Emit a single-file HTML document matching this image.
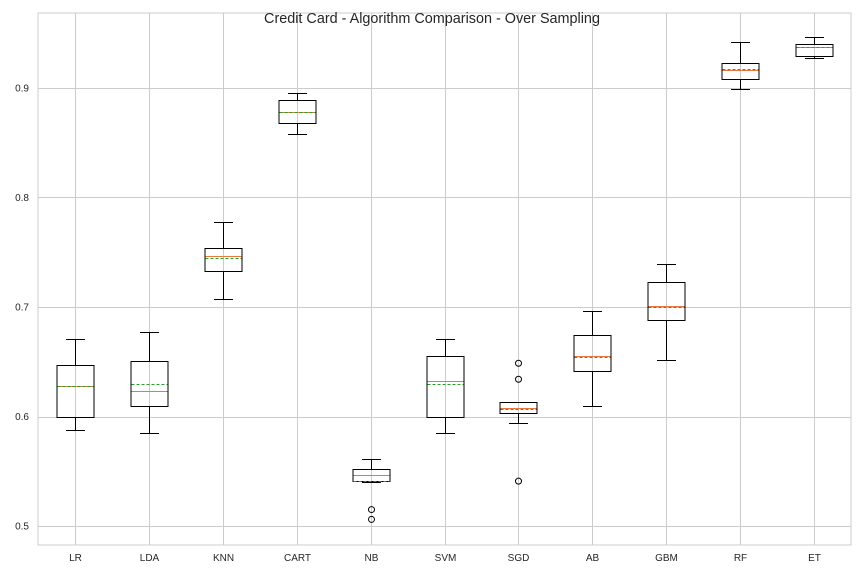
<!DOCTYPE html>
<html><head><meta charset="utf-8"><style>
body{margin:0;background:#fff;font-family:"Liberation Sans",sans-serif}
svg text{font-family:"Liberation Sans",sans-serif}
</style></head><body>
<svg id="chart" width="864" height="576"></svg>
<script>
const categories=["LR","LDA","KNN","CART","NB","SVM","SGD","AB","GBM","RF","ET"];
const whiskerLow=[0.588,0.585,0.707,0.858,0.540,0.585,0.594,0.610,0.652,0.899,0.927];
const q1=[0.600,0.610,0.733,0.868,0.541,0.600,0.603,0.642,0.688,0.908,0.929];
const medians=[0.628,0.623,0.747,0.878,0.5466,0.632,0.608,0.655,0.701,0.916,0.937];
const means=[0.628,0.630,0.745,0.878,0.541,0.630,0.6066,0.654,0.700,0.917,0.937];
const q3=[0.647,0.651,0.754,0.889,0.552,0.655,0.613,0.674,0.723,0.923,0.940];
const whiskerHigh=[0.671,0.677,0.778,0.895,0.561,0.671,0.613,0.696,0.739,0.942,0.947];
const outliers=[[],[],[],[],[0.515,0.506],[],[0.6486,0.634,0.541],[],[],[],[]];
const yTicks=[0.5,0.6,0.7,0.8,0.9];

const L=38,R=851,T=13,B=545;
const NS="http://www.w3.org/2000/svg";
const svg=document.getElementById('chart');
const step=(R-L)/categories.length;
function x(i){return L+step*(i+0.5);}
function y(v){return 526-(v-0.5)*1095;}
function px(v){return Math.round(v)+0.5;}
function el(tag,attrs,parent){const e=document.createElementNS(NS,tag);for(const k in attrs)e.setAttribute(k,attrs[k]);(parent||svg).appendChild(e);return e;}

const bg=el('rect',{x:L,y:T,width:R-L,height:B-T,fill:'#fff',stroke:'#ccc','stroke-width':1});


yTicks.forEach(t=>{
  const g=el('line',{x1:L,x2:R,y1:px(y(t)),y2:px(y(t)),stroke:'#ccc','stroke-width':1});
  
  
  const tx=el('text',{x:L-9,y:y(t)+3.5,'text-anchor':'end','font-size':10,fill:'#262626'});
  tx.textContent=t.toFixed(1);
  
  
});
categories.forEach((c,i)=>{
  const cx=px(x(i));
  const g=el('line',{x1:cx,x2:cx,y1:T,y2:B,stroke:'#ccc','stroke-width':1});
  
  
  const tx=el('text',{x:cx,y:B+16,'text-anchor':'middle','font-size':10,fill:'#262626'});
  tx.textContent=c;
  
  
});
categories.forEach((c,i)=>{
  const cx=px(x(i)),bw=37,cw=19;
  const grp=el('g',{});
  
  
  el('line',{x1:cx,x2:cx,y1:px(y(whiskerLow[i])),y2:px(y(q1[i])),stroke:'#000','stroke-width':1},grp);
  el('line',{x1:cx,x2:cx,y1:px(y(q3[i])),y2:px(y(whiskerHigh[i])),stroke:'#000','stroke-width':1},grp);
  el('line',{x1:cx-cw/2,x2:cx+cw/2,y1:px(y(whiskerLow[i])),y2:px(y(whiskerLow[i])),stroke:'#000','stroke-width':1},grp);
  el('line',{x1:cx-cw/2,x2:cx+cw/2,y1:px(y(whiskerHigh[i])),y2:px(y(whiskerHigh[i])),stroke:'#000','stroke-width':1},grp);
  el('rect',{x:cx-bw/2,y:px(y(q3[i])),width:bw,height:px(y(q1[i]))-px(y(q3[i])),fill:'none',stroke:'#000','stroke-width':1},grp);
  el('line',{x1:cx-bw/2+0.5,x2:cx+bw/2-0.5,y1:px(y(medians[i])),y2:px(y(medians[i])),stroke:'#e5793f','stroke-width':1},grp);
  el('line',{x1:cx-bw/2+0.5,x2:cx+bw/2-0.5,y1:px(y(means[i])),y2:px(y(means[i])),stroke:'#2ca02c','stroke-width':1,'stroke-dasharray':'3,2'},grp);
  outliers[i].forEach(o=>{
    const p=el('circle',{cx:cx,cy:y(o),r:3,fill:'none',stroke:'#000','stroke-width':1},grp);
    
    
  });
});
const title=el('text',{x:432,y:23,'text-anchor':'middle','font-size':14.4,fill:'#262626'});
title.textContent='Credit Card - Algorithm Comparison - Over Sampling';


</script>
</body></html>
